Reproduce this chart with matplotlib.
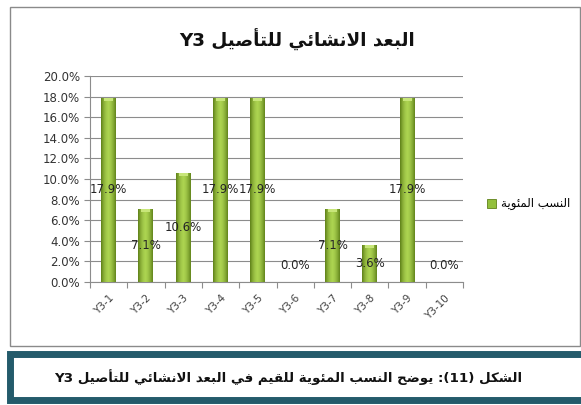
import matplotlib
matplotlib.use("Agg")
from matplotlib import pyplot as plt
from matplotlib.patches import Rectangle
import numpy as np

categories = ["Y3-1", "Y3-2", "Y3-3", "Y3-4", "Y3-5", "Y3-6", "Y3-7", "Y3-8", "Y3-9", "Y3-10"]
values = [17.9, 7.1, 10.6, 17.9, 17.9, 0.0, 7.1, 3.6, 17.9, 0.0]
yticks = [0, 2, 4, 6, 8, 10, 12, 14, 16, 18, 20]

title_txt = "البعد الانشائي للتأصيل Y3"
legend_txt = "النسب المئوية"
caption_txt = "الشكل (11): يوضح النسب المئوية للقيم في البعد الانشائي للتأصيل Y3"

# small arabic shaper: presentation forms + visual order (no network, no arabic_reshaper)
# letter: (isolated, final, initial, medial); two entries = joins only to the right
FORMS = {
    "ا": (0xFE8D, 0xFE8E), "أ": (0xFE83, 0xFE84), "د": (0xFEA9, 0xFEAA),
    "و": (0xFEED, 0xFEEE), "ة": (0xFE93, 0xFE94),
    "ب": (0xFE8F, 0xFE90, 0xFE91, 0xFE92), "ت": (0xFE95, 0xFE96, 0xFE97, 0xFE98),
    "ح": (0xFEA1, 0xFEA2, 0xFEA3, 0xFEA4), "س": (0xFEB1, 0xFEB2, 0xFEB3, 0xFEB4),
    "ش": (0xFEB5, 0xFEB6, 0xFEB7, 0xFEB8), "ص": (0xFEB9, 0xFEBA, 0xFEBB, 0xFEBC),
    "ض": (0xFEBD, 0xFEBE, 0xFEBF, 0xFEC0), "ع": (0xFEC9, 0xFECA, 0xFECB, 0xFECC),
    "ف": (0xFED1, 0xFED2, 0xFED3, 0xFED4), "ق": (0xFED5, 0xFED6, 0xFED7, 0xFED8),
    "ك": (0xFED9, 0xFEDA, 0xFEDB, 0xFEDC), "ل": (0xFEDD, 0xFEDE, 0xFEDF, 0xFEE0),
    "م": (0xFEE1, 0xFEE2, 0xFEE3, 0xFEE4), "ن": (0xFEE5, 0xFEE6, 0xFEE7, 0xFEE8),
    "ي": (0xFEF1, 0xFEF2, 0xFEF3, 0xFEF4), "ئ": (0xFE89, 0xFE8A, 0xFE8B, 0xFE8C),
}
LAMALEF = {"ا": (0xFEFB, 0xFEFC), "أ": (0xFEF7, 0xFEF8)}
MIRROR = {"(": ")", ")": "("}


def shape_word(w):
    out = []
    i = 0
    prev_joins = False
    while i < len(w):
        c = w[i]
        if c == "ل" and i + 1 < len(w) and w[i + 1] in LAMALEF:
            out.append(chr(LAMALEF[w[i + 1]][1 if prev_joins else 0]))
            prev_joins = False
            i += 2
            continue
        f = FORMS.get(c)
        if f is None:
            out.append(c)
            prev_joins = False
            i += 1
            continue
        nxt = i + 1 < len(w) and w[i + 1] in FORMS and len(f) == 4
        if prev_joins and nxt:
            g = f[3]
        elif prev_joins:
            g = f[1]
        elif nxt:
            g = f[2]
        else:
            g = f[0]
        out.append(chr(g))
        prev_joins = len(f) == 4
        i += 1
    return "".join(reversed(out))


def ar(text):
    words = []
    for w in text.split(" "):
        if any(c in FORMS for c in w):
            words.append(shape_word(w))
        elif w.isascii() and w.isalnum():
            words.append(w)
        else:
            words.append("".join(MIRROR.get(c, c) for c in reversed(w)))
    return " ".join(reversed(words))


fig = plt.figure(figsize=(5.81, 4.05), dpi=100)
fig.patch.set_facecolor("white")

# outer chart frame
fig.patches.append(Rectangle((10 / 581, 1 - 346 / 405), 570 / 581, 339 / 405,
                             transform=fig.transFigure, fill=False, ec="#8a8a8a", lw=1))
# caption box
fig.patches.append(Rectangle((10 / 581, 1 - 400 / 405), 580 / 581, 46 / 405,
                             transform=fig.transFigure, fc="white", ec="#245b6b", lw=5))

ax = fig.add_axes([90 / 581, 1 - 282 / 405, 373 / 581, 206 / 405])
x = np.arange(len(categories))
bars = ax.bar(x, values, width=0.4, color="#93c03c", zorder=2)

# cylinder-like shading on each bar
shade = np.array([0.0, 0.45, 0.75, 0.9, 0.75, 0.45, 0.05])
cmap = matplotlib.colors.LinearSegmentedColormap.from_list("g", ["#5f8119", "#b6de58"])
grad = np.interp(np.linspace(0, 1, 64), np.linspace(0, 1, len(shade)), shade)[None, :]
for b in bars:
    if b.get_height() <= 0:
        continue
    im = ax.imshow(grad, cmap=cmap, vmin=0, vmax=1, aspect="auto", zorder=3,
                   extent=[b.get_x(), b.get_x() + b.get_width(), 0, b.get_height()])
    im.set_clip_path(b)
    # lighter cap at the top
    ax.add_patch(Rectangle((b.get_x() + b.get_width() * 0.2, b.get_height() - 0.3),
                           b.get_width() * 0.6, 0.3, fc="#c8e67a", ec="none", zorder=4))

for xi, v in zip(x, values):
    ax.text(xi, max(v / 2, 1.6), f"{v:.1f}%", ha="center", va="center",
            fontsize=8.5, color="#262626", zorder=5)

ax.set_xlim(-0.5, len(categories) - 0.5)
ax.set_ylim(0, 20)
ax.set_yticks(yticks)
ax.set_yticklabels([f"{t:.1f}%" for t in yticks], fontsize=8.5, color="#333333")
ax.yaxis.grid(True, color="#8c8c8c", lw=0.8, zorder=0)
ax.set_axisbelow(True)
ax.tick_params(axis="y", length=4, width=0.8, color="#8c8c8c", pad=3)

ax.set_xticks(x)
ax.set_xticklabels(categories, rotation=45, ha="right", rotation_mode="anchor",
                   fontsize=7.5, color="#404040")
ax.set_xticks(np.arange(-0.5, len(categories)), minor=True)
ax.tick_params(axis="x", which="major", length=0, pad=8)
ax.tick_params(axis="x", which="minor", length=4, width=0.8, color="#8c8c8c")
for s in ["top", "right"]:
    ax.spines[s].set_visible(False)
for s in ["left", "bottom"]:
    ax.spines[s].set_color("#8c8c8c")
    ax.spines[s].set_linewidth(0.8)

leg_handle = Rectangle((0, 0), 1, 1, fc="#93c03c", ec="#5f8119", lw=0.6)
ax.legend([leg_handle], [ar(legend_txt)], loc="center left", bbox_to_anchor=(1.035, 0.38),
          frameon=False, fontsize=8.5, handlelength=0.8, handleheight=0.8, handletextpad=0.4)

fig.text(297 / 581, 1 - 40 / 405, ar(title_txt), ha="center", va="center",
         fontsize=13.2, fontweight="bold", color="#111111")
fig.text(288 / 581, 1 - 377 / 405, ar(caption_txt), ha="center", va="center",
         fontsize=9.6, fontweight="bold", color="#111111")

fig.savefig("out.png", dpi=100)
